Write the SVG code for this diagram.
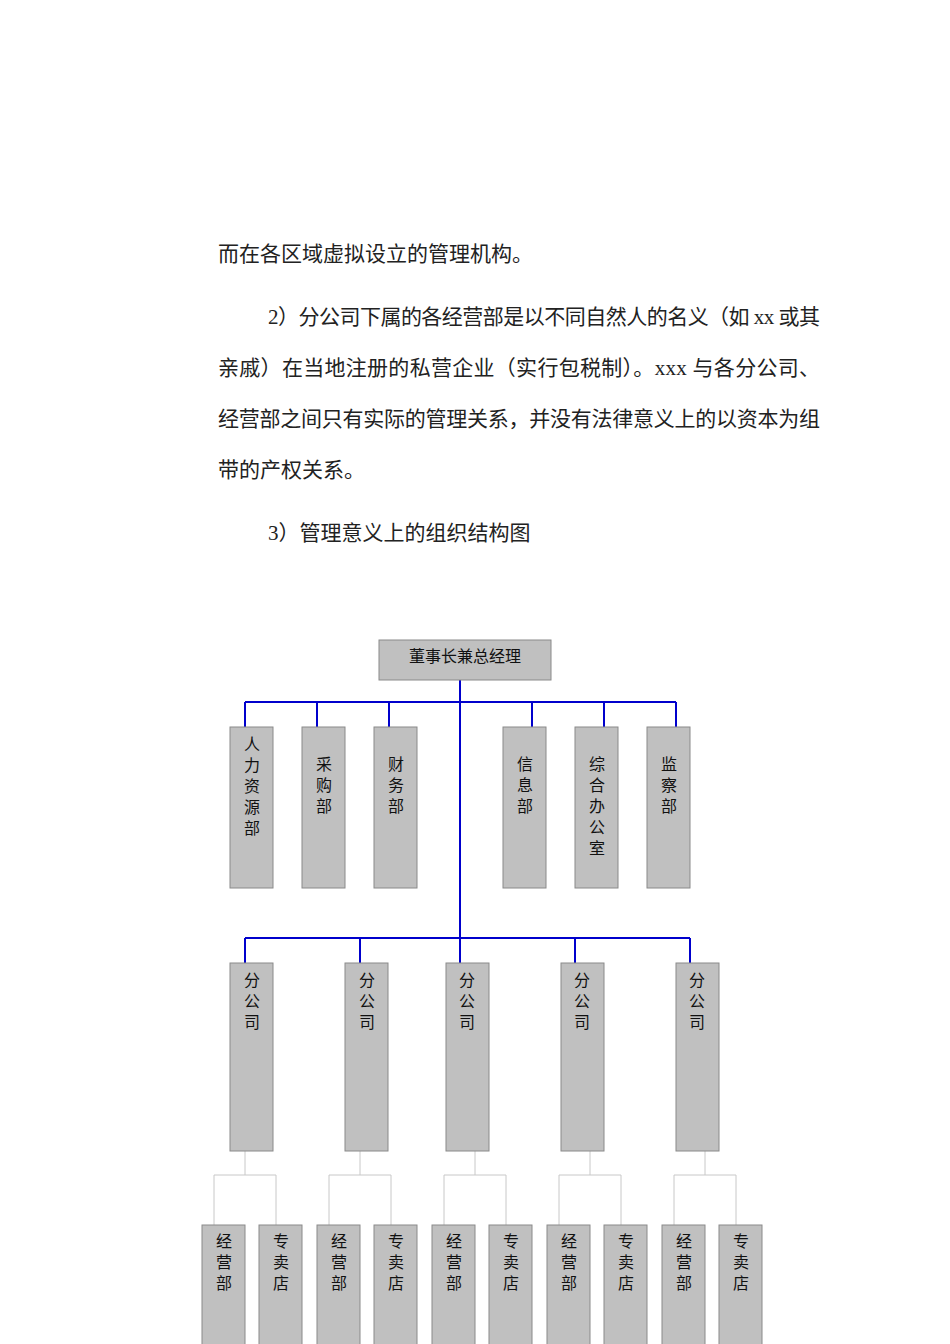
<svg xmlns="http://www.w3.org/2000/svg" width="950" height="1344" viewBox="0 0 950 1344">
<style>
.p{font-family:"Liberation Serif","Noto Sans CJK SC",serif;font-size:21px;fill:#222}
.b{fill:#c0c0c0;stroke:#8a8a8a;stroke-width:1}
.t{font-family:"Liberation Sans","Noto Sans CJK SC",sans-serif;font-size:16px;fill:#111;text-anchor:middle}
.blue{stroke:#0000cc;stroke-width:2;fill:none}
.grey{stroke:#c8c8c8;stroke-width:1;fill:none}
</style>
<rect width="950" height="1344" fill="#fff"/>
<g id="paragraph">
<text class="p" x="218" y="261">而在各区域虚拟设立的管理机构。</text>
<text class="p" x="268" y="324" textLength="552" lengthAdjust="spacing">2）分公司下属的各经营部是以不同自然人的名义（如 xx 或其</text>
<text class="p" x="218" y="375" textLength="602" lengthAdjust="spacing">亲戚）在当地注册的私营企业（实行包税制）。xxx 与各分公司、</text>
<text class="p" x="218" y="426" textLength="602" lengthAdjust="spacing">经营部之间只有实际的管理关系，并没有法律意义上的以资本为组</text>
<text class="p" x="218" y="477">带的产权关系。</text>
<text class="p" x="268" y="540">3）管理意义上的组织结构图</text>
</g>
<g id="connectors">
<path class="blue" d="M460 680V938M245 702H676M245 702V727M317 702V727M389 702V727M532 702V727M604 702V727M676 702V727M245 938H690M245 938V963M360 938V963M460 938V963M575 938V963M690 938V963"/>
<path class="grey" d="M245 1151V1175M214 1175H276M214 1175V1225M276 1175V1225M360 1151V1175M329 1175H391M329 1175V1225M391 1175V1225M475 1151V1175M444 1175H506M444 1175V1225M506 1175V1225M590 1151V1175M559 1175H621M559 1175V1225M621 1175V1225M705 1151V1175M674 1175H736M674 1175V1225M736 1175V1225"/>
</g>
<g id="ceo"><rect class="b" x="379" y="640" width="172" height="40"/><text class="t" x="465" y="662">董事长兼总经理</text></g>
<g id="hr"><rect class="b" x="230" y="727" width="43" height="161"/><text class="t" x="252" y="750">人</text><text class="t" x="252" y="771">力</text><text class="t" x="252" y="792">资</text><text class="t" x="252" y="813">源</text><text class="t" x="252" y="834">部</text></g>
<g id="purchase"><rect class="b" x="302" y="727" width="43" height="161"/><text class="t" x="324" y="770">采</text><text class="t" x="324" y="791">购</text><text class="t" x="324" y="812">部</text></g>
<g id="finance"><rect class="b" x="374" y="727" width="43" height="161"/><text class="t" x="396" y="770">财</text><text class="t" x="396" y="791">务</text><text class="t" x="396" y="812">部</text></g>
<g id="info"><rect class="b" x="503" y="727" width="43" height="161"/><text class="t" x="525" y="770">信</text><text class="t" x="525" y="791">息</text><text class="t" x="525" y="812">部</text></g>
<g id="office"><rect class="b" x="575" y="727" width="43" height="161"/><text class="t" x="597" y="770">综</text><text class="t" x="597" y="791">合</text><text class="t" x="597" y="812">办</text><text class="t" x="597" y="833">公</text><text class="t" x="597" y="854">室</text></g>
<g id="audit"><rect class="b" x="647" y="727" width="43" height="161"/><text class="t" x="669" y="770">监</text><text class="t" x="669" y="791">察</text><text class="t" x="669" y="812">部</text></g>
<g id="branch1"><rect class="b" x="230" y="963" width="43" height="188"/><text class="t" x="252" y="986">分</text><text class="t" x="252" y="1007">公</text><text class="t" x="252" y="1028">司</text></g>
<g id="branch2"><rect class="b" x="345" y="963" width="43" height="188"/><text class="t" x="367" y="986">分</text><text class="t" x="367" y="1007">公</text><text class="t" x="367" y="1028">司</text></g>
<g id="branch3"><rect class="b" x="446" y="963" width="43" height="188"/><text class="t" x="467" y="986">分</text><text class="t" x="467" y="1007">公</text><text class="t" x="467" y="1028">司</text></g>
<g id="branch4"><rect class="b" x="561" y="963" width="43" height="188"/><text class="t" x="582" y="986">分</text><text class="t" x="582" y="1007">公</text><text class="t" x="582" y="1028">司</text></g>
<g id="branch5"><rect class="b" x="676" y="963" width="43" height="188"/><text class="t" x="697" y="986">分</text><text class="t" x="697" y="1007">公</text><text class="t" x="697" y="1028">司</text></g>
<g id="ops1"><rect class="b" x="202" y="1225" width="43" height="130"/><text class="t" x="224" y="1247">经</text><text class="t" x="224" y="1268">营</text><text class="t" x="224" y="1289">部</text></g>
<g id="shop1"><rect class="b" x="259" y="1225" width="43" height="130"/><text class="t" x="281" y="1247">专</text><text class="t" x="281" y="1268">卖</text><text class="t" x="281" y="1289">店</text></g>
<g id="ops2"><rect class="b" x="317" y="1225" width="43" height="130"/><text class="t" x="339" y="1247">经</text><text class="t" x="339" y="1268">营</text><text class="t" x="339" y="1289">部</text></g>
<g id="shop2"><rect class="b" x="374" y="1225" width="43" height="130"/><text class="t" x="396" y="1247">专</text><text class="t" x="396" y="1268">卖</text><text class="t" x="396" y="1289">店</text></g>
<g id="ops3"><rect class="b" x="432" y="1225" width="43" height="130"/><text class="t" x="454" y="1247">经</text><text class="t" x="454" y="1268">营</text><text class="t" x="454" y="1289">部</text></g>
<g id="shop3"><rect class="b" x="489" y="1225" width="43" height="130"/><text class="t" x="511" y="1247">专</text><text class="t" x="511" y="1268">卖</text><text class="t" x="511" y="1289">店</text></g>
<g id="ops4"><rect class="b" x="547" y="1225" width="43" height="130"/><text class="t" x="569" y="1247">经</text><text class="t" x="569" y="1268">营</text><text class="t" x="569" y="1289">部</text></g>
<g id="shop4"><rect class="b" x="604" y="1225" width="43" height="130"/><text class="t" x="626" y="1247">专</text><text class="t" x="626" y="1268">卖</text><text class="t" x="626" y="1289">店</text></g>
<g id="ops5"><rect class="b" x="662" y="1225" width="43" height="130"/><text class="t" x="684" y="1247">经</text><text class="t" x="684" y="1268">营</text><text class="t" x="684" y="1289">部</text></g>
<g id="shop5"><rect class="b" x="719" y="1225" width="43" height="130"/><text class="t" x="741" y="1247">专</text><text class="t" x="741" y="1268">卖</text><text class="t" x="741" y="1289">店</text></g>
</svg>
